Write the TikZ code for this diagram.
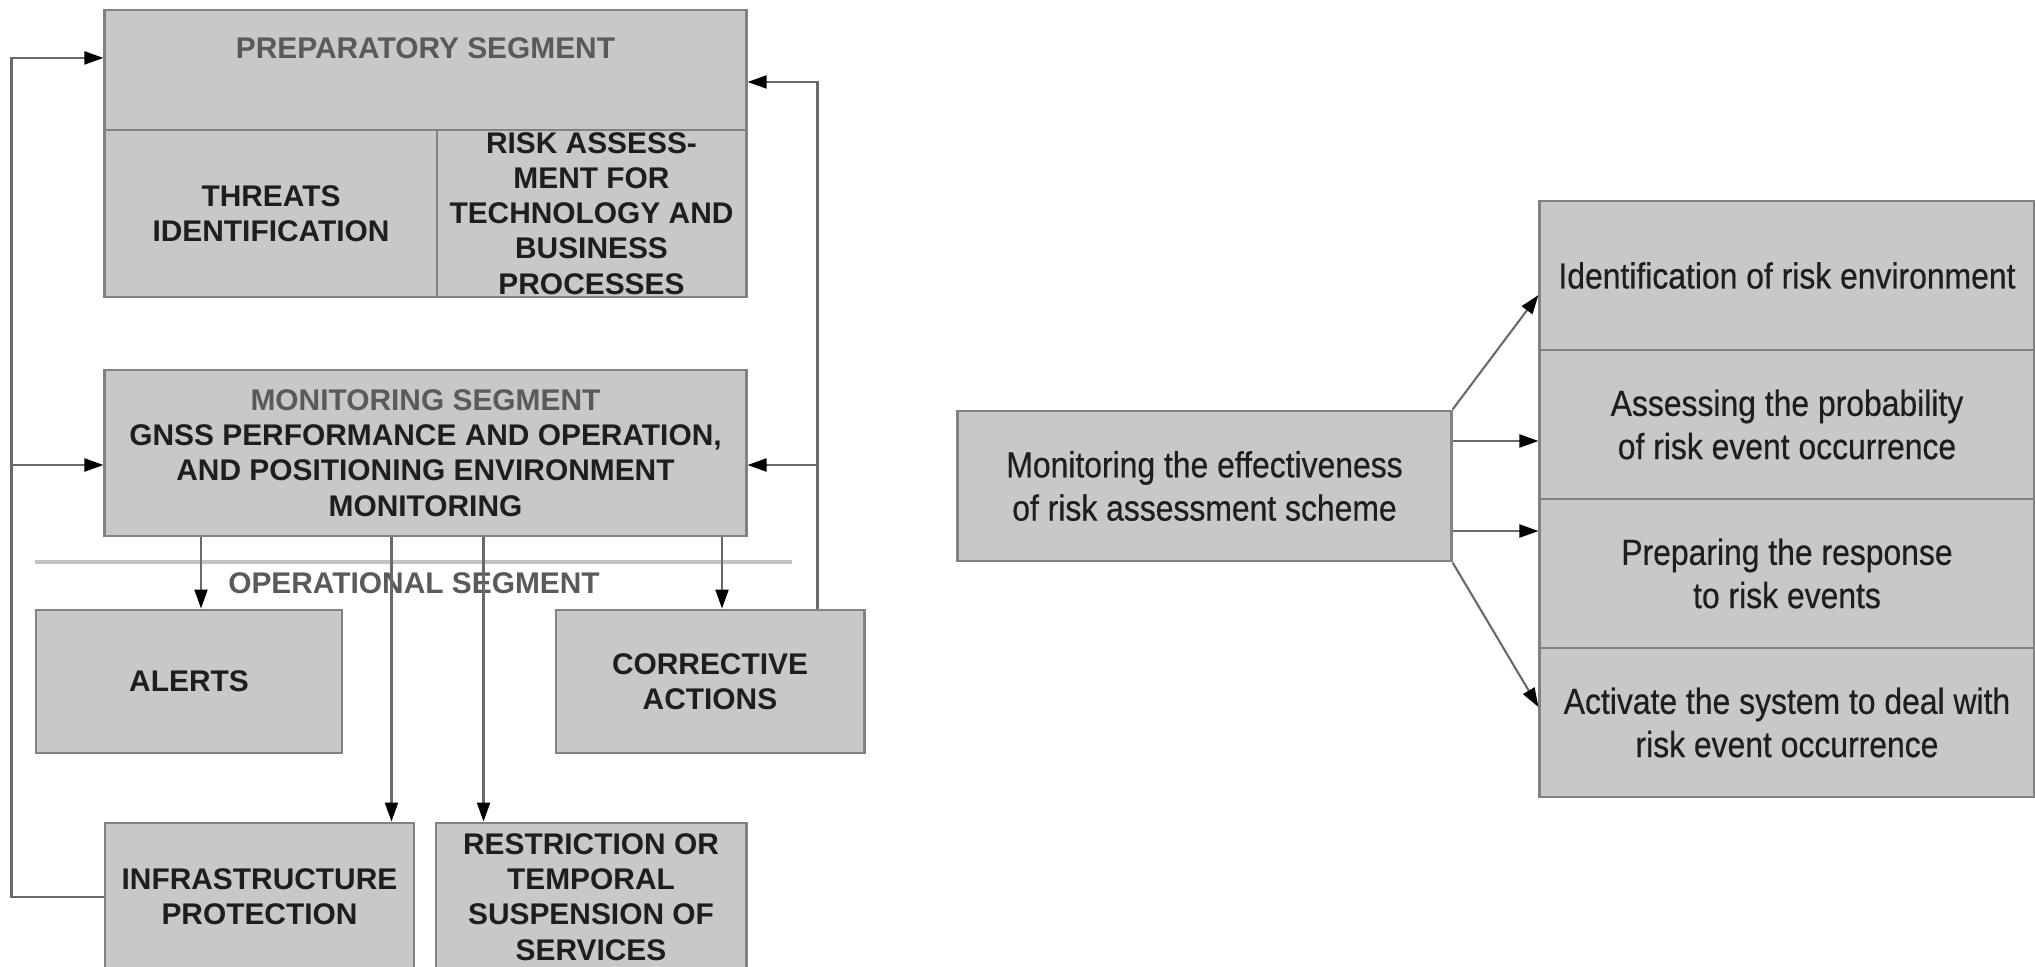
\documentclass[tikz,border=0pt]{standalone}
\usepackage{fontspec}
\setmainfont{Liberation Sans}
\newfontfamily\narrowfont[FakeStretch=0.88, FakeBold=0.5]{Liberation Sans}
\usetikzlibrary{arrows.meta, positioning}
\definecolor{boxfill}{RGB}{200,200,200}
\definecolor{boxline}{RGB}{130,130,130}
\definecolor{linkgray}{RGB}{105,105,105}
\definecolor{sepgray}{RGB}{195,195,195}
\definecolor{titlegray}{RGB}{90,90,90}
\definecolor{textdark}{RGB}{30,30,30}

\begin{document}
\begin{tikzpicture}[
    x=0.01cm, y=-0.01cm,
    segbox/.style={rectangle, draw=boxline, fill=boxfill, line width=0.8pt, inner sep=0pt, align=center, text=textdark, font=\bfseries\fontsize{8.5}{10}\selectfont},
    riskbox/.style={rectangle, draw=boxline, fill=boxfill, line width=0.8pt, inner sep=0pt, align=center, text=textdark, minimum width=4.94cm, minimum height=1.49cm, font=\narrowfont\fontsize{10.3}{12.3}\selectfont},
    title/.style={text=titlegray, font=\bfseries\fontsize{8.5}{10}\selectfont},
    arrow/.style={-{Triangle[length=0.19cm, width=0.13cm, color=black]}, draw=linkgray, line width=0.6pt}
]
\useasboundingbox (0,0) rectangle (2035,966);
\clip (0,0) rectangle (2035,966);

% Preparatory segment
\node[segbox, minimum width=6.41cm, minimum height=2.87cm] (prep) at (425.5,153.5) {};
\node[title] (preptitle) at (425.5,48) {PREPARATORY SEGMENT};
\node[segbox, minimum width=3.32cm, minimum height=1.67cm] (threats) at (271,213.5) {THREATS\\IDENTIFICATION};
\node[segbox, minimum width=3.09cm, minimum height=1.67cm] (riskproc) at (591.5,213.5) {RISK ASSESS-\\MENT FOR\\TECHNOLOGY AND\\BUSINESS\\PROCESSES};

% Monitoring segment
\node[segbox, minimum width=6.41cm, minimum height=1.66cm] (monitor) at (425.5,453) {\textcolor{titlegray}{MONITORING SEGMENT}\\GNSS PERFORMANCE AND OPERATION,\\AND POSITIONING ENVIRONMENT\\MONITORING};

% Operational segment
\draw[sepgray, line width=1.2pt] (35,562) -- (792,562);
\node[title] (opseg) at (414,583) {OPERATIONAL SEGMENT};
\node[segbox, minimum width=3.06cm, minimum height=1.43cm] (alerts) at (189,681.5) {ALERTS};
\node[segbox, minimum width=3.08cm, minimum height=1.43cm] (corrective) at (710,681.5) {CORRECTIVE\\ACTIONS};
\node[segbox, minimum width=3.09cm, minimum height=1.48cm] (infra) at (259.5,897) {INFRASTRUCTURE\\PROTECTION};
\node[segbox, minimum width=3.10cm, minimum height=1.48cm] (restrict) at (591,897) {RESTRICTION OR\\TEMPORAL\\SUSPENSION OF\\SERVICES};

% Arrows from monitoring to operational
\draw[arrow] ([xshift=0.12cm]alerts.north |- monitor.south) -- ([xshift=0.12cm]alerts.north);
\draw[arrow] ([xshift=0.12cm]corrective.north |- monitor.south) -- ([xshift=0.12cm]corrective.north);
\draw[arrow] ([xshift=-0.24cm]infra.north east |- monitor.south) -- ([xshift=-0.24cm]infra.north east);
\draw[arrow] ([xshift=0.49cm]restrict.north west |- monitor.south) -- ([xshift=0.49cm]restrict.north west);

% Feedback loops
\draw[arrow] (infra.west) -- ++(-92,0) |- ([yshift=0.955cm]prep.west);
\draw[arrow] (infra.west) -- ++(-92,0) |- ([yshift=-0.12cm]monitor.west);
\draw[arrow] ([xshift=-0.48cm]corrective.north east) |- ([yshift=0.715cm]prep.east);
\draw[arrow] ([xshift=-0.48cm]corrective.north east) |- ([yshift=-0.12cm]monitor.east);

% Risk assessment scheme (right)
\node[riskbox, minimum width=4.93cm, minimum height=1.5cm] (effect) at (1204.5,486) {Monitoring the effectiveness\\of risk assessment scheme};
\node[riskbox] (ident) at (1787,275.5) {Identification of risk environment};
\node[riskbox] (prob) at (1787,424.5) {Assessing the probability\\of risk event occurrence};
\node[riskbox] (response) at (1787,573.5) {Preparing the response\\to risk events};
\node[riskbox] (activate) at (1787,722.5) {Activate the system to deal with\\risk event occurrence};

\draw[arrow] (effect.north east) -- ([yshift=-0.195cm]ident.west);
\draw[arrow] ([yshift=0.45cm]effect.east) -- ([yshift=0.45cm]effect.east -| prob.west);
\draw[arrow] ([yshift=-0.45cm]effect.east) -- ([yshift=-0.45cm]effect.east -| response.west);
\draw[arrow] (effect.south east) -- ([yshift=0.155cm]activate.west);

\end{tikzpicture}
\end{document}
